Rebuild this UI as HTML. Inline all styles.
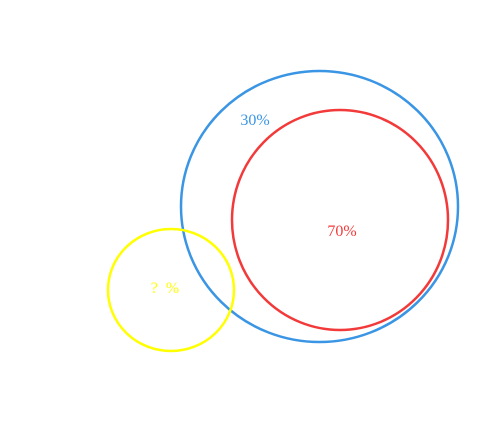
<!DOCTYPE html>
<html><head><meta charset="utf-8"><style>
html,body{margin:0;padding:0;background:#fff;width:490px;height:446px;overflow:hidden}
text{font-family:"Liberation Serif",serif;font-size:16px}
</style></head><body>
<svg id="chart" width="490" height="446" viewBox="0 0 490 446"></svg>
<script>
const setNames = ['total', 'subset', 'other'];
const setLabels = ['30%', '70%', '?\u00a0\u00a0%'];
const setColors = ['#3a95e4', '#f33a3a', '#ffff00'];
const svg = document.getElementById('chart');
const NS = 'http://www.w3.org/2000/svg';
const geom = [
  {cx:319.5, cy:206.5, rx:138.5, ry:135.5, tx:255, ty:125},
  {cx:340, cy:220, rx:108, ry:110, tx:342, ty:236},
  {cx:171, cy:290, rx:63, ry:61, tx:165, ty:293}
];
setNames.forEach((n, i) => {
  const g = geom[i];
  const e = document.createElementNS(NS, 'ellipse');
  e.setAttribute('cx', g.cx); e.setAttribute('cy', g.cy);
  e.setAttribute('rx', g.rx); e.setAttribute('ry', g.ry);
  e.setAttribute('fill', 'none'); e.setAttribute('stroke', setColors[i]);
  e.setAttribute('stroke-width', '2.5');
  
  
  svg.appendChild(e);
});
setNames.forEach((n, i) => {
  const g = geom[i];
  const t = document.createElementNS(NS, 'text');
  t.setAttribute('x', g.tx); t.setAttribute('y', g.ty);
  t.setAttribute('text-anchor', 'middle'); t.setAttribute('fill', setColors[i]);
  t.textContent = setLabels[i];
  
  
  svg.appendChild(t);
});
</script>
</body></html>
